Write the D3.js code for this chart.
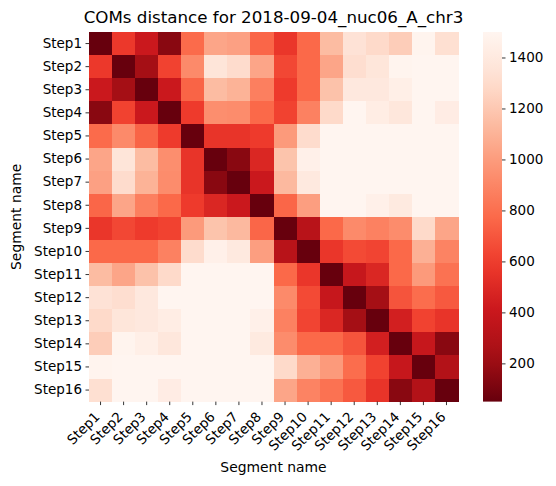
<!DOCTYPE html>
<html><head><meta charset="utf-8">
<script src="https://cdn.jsdelivr.net/npm/d3@7"></script>
<style>body{margin:0;background:#fff;}svg{display:block;font-family:"DejaVu Sans",sans-serif;}</style>
</head><body>
<script>
const title = "COMs distance for 2018-09-04_nuc06_A_chr3";
const steps = ["Step1","Step2","Step3","Step4","Step5","Step6","Step7","Step8","Step9","Step10","Step11","Step12","Step13","Step14","Step15","Step16"];
const colorTicks = [200,400,600,800,1000,1200,1400];
const vmin = 50, vmax = 1500;
const row1 = [50,580,410,150,780,1040,1020,760,570,770,1140,1340,1290,1225,1490,1320];
const row2 = [580,50,230,620,920,1360,1300,1040,640,770,1040,1310,1370,1490,1500,1500];
const row3 = [410,230,50,410,750,1140,1100,870,590,770,1170,1390,1390,1445,1500,1500];
const row4 = [150,620,410,50,590,940,930,770,620,880,1290,1500,1430,1380,1500,1425];
const row5 = [780,920,750,590,50,560,560,590,990,1300,1500,1500,1500,1500,1500,1500];
const row6 = [1040,1360,1140,940,560,50,150,490,1180,1460,1500,1500,1500,1500,1500,1500];
const row7 = [1020,1300,1100,930,560,150,50,410,1130,1400,1500,1500,1500,1500,1500,1500];
const row8 = [760,1040,870,770,590,490,410,50,760,1010,1500,1500,1460,1405,1500,1500];
const row9 = [570,640,590,620,990,1180,1130,760,50,320,770,920,880,930,1290,1040];
const row10 = [770,770,770,880,1300,1460,1400,1010,320,50,570,650,630,770,1090,890];
const row11 = [1140,1040,1170,1290,1500,1500,1500,1500,770,570,50,390,490,770,990,810];
const row12 = [1340,1310,1390,1500,1500,1500,1500,1500,920,650,390,50,230,690,790,710];
const row13 = [1290,1370,1390,1430,1500,1500,1500,1460,880,630,490,230,50,450,620,560];
const row14 = [1225,1490,1445,1380,1500,1500,1500,1405,930,770,770,690,450,50,390,150];
const row15 = [1490,1500,1500,1500,1500,1500,1500,1500,1290,1090,990,790,620,390,50,300];
const row16 = [1320,1500,1500,1425,1500,1500,1500,1500,1040,890,810,710,560,150,300,50];
const matrix = [row1,row2,row3,row4,row5,row6,row7,row8,row9,row10,row11,row12,row13,row14,row15,row16];

const W = 556, H = 486;
const L = 89, R = 458, T = 32, B = 401.6;
const svg = d3.select("body").append("svg").attr("width", W).attr("height", H);

const x = d3.scaleBand().domain(steps).range([L, R]);
const y = d3.scaleBand().domain(steps).range([T, B]);

// matplotlib-like Reds_r: linear RGB between 9 brewer stops
const stops = d3.schemeReds[9].slice().reverse();
const color = d3.scaleLinear()
  .domain(stops.map((_, i) => vmin + (vmax - vmin) * i / (stops.length - 1)))
  .range(stops).interpolate(d3.interpolateRgb).clamp(true);

const cells = [];
matrix.forEach((r, i) => r.forEach((v, j) => cells.push({r: steps[i], c: steps[j], v})));
svg.append("g").selectAll("rect").data(cells).join("rect")
  .attr("x", d => x(d.c)).attr("y", d => y(d.r))
  .attr("width", x.bandwidth() + 0.5).attr("height", y.bandwidth() + 0.5)
  .attr("fill", d => color(d.v)).attr("shape-rendering", "crispEdges");

// axes
const yAxis = svg.append("g").attr("transform", `translate(${L},0)`)
  .call(d3.axisLeft(y).tickSize(3.5).tickPadding(3.5));
yAxis.select(".domain").remove();
yAxis.selectAll("text").attr("font-size", "13.5px").attr("fill", "#000")
  .attr("font-family", "DejaVu Sans");
yAxis.selectAll("line").attr("stroke", "#000").attr("stroke-width", 0.8);

const xAxis = svg.append("g").attr("transform", `translate(0,${B})`)
  .call(d3.axisBottom(x).tickSize(3.5).tickPadding(3.5));
xAxis.select(".domain").remove();
xAxis.selectAll("line").attr("stroke", "#000").attr("stroke-width", 0.8);
xAxis.selectAll("text").attr("font-size", "13.5px").attr("fill", "#000")
  .attr("font-family", "DejaVu Sans")
  .attr("text-anchor", "end").attr("dy", null).attr("y", null)
  .attr("transform", "translate(0,16) rotate(-45)");

// title and labels
svg.append("text").attr("x", (L + R) / 2).attr("y", 23).attr("text-anchor", "middle")
  .attr("font-size", "16.7px").attr("fill", "#000").text(title);
svg.append("text").attr("x", (L + R) / 2).attr("y", 472).attr("text-anchor", "middle")
  .attr("font-size", "13.9px").attr("fill", "#000").text("Segment name");
svg.append("text").attr("transform", `translate(21,${(T + B) / 2}) rotate(-90)`)
  .attr("text-anchor", "middle").attr("font-size", "13.9px").attr("fill", "#000").text("Segment name");

// colorbar
const cbX = 483, cbW = 19;
const cbScale = d3.scaleLinear().domain([vmin, vmax]).range([B, T]);
const defs = svg.append("defs");
const grad = defs.append("linearGradient").attr("id", "cb").attr("x1", 0).attr("y1", 1).attr("x2", 0).attr("y2", 0);
d3.range(0, 1.0001, 0.05).forEach(t => {
  grad.append("stop").attr("offset", t).attr("stop-color", color(vmin + t * (vmax - vmin)));
});
svg.append("rect").attr("x", cbX).attr("y", T).attr("width", cbW).attr("height", B - T).attr("fill", "url(#cb)");
const cbAxis = svg.append("g").attr("transform", `translate(${cbX + cbW},0)`)
  .call(d3.axisRight(cbScale).tickValues(colorTicks).tickFormat(d3.format("d")).tickSize(3.5).tickPadding(3.5));
cbAxis.select(".domain").remove();
cbAxis.selectAll("line").attr("stroke", "#000").attr("stroke-width", 0.8);
cbAxis.selectAll("text").attr("font-size", "13.5px").attr("fill", "#000").attr("font-family", "DejaVu Sans");
</script>
</body></html>
